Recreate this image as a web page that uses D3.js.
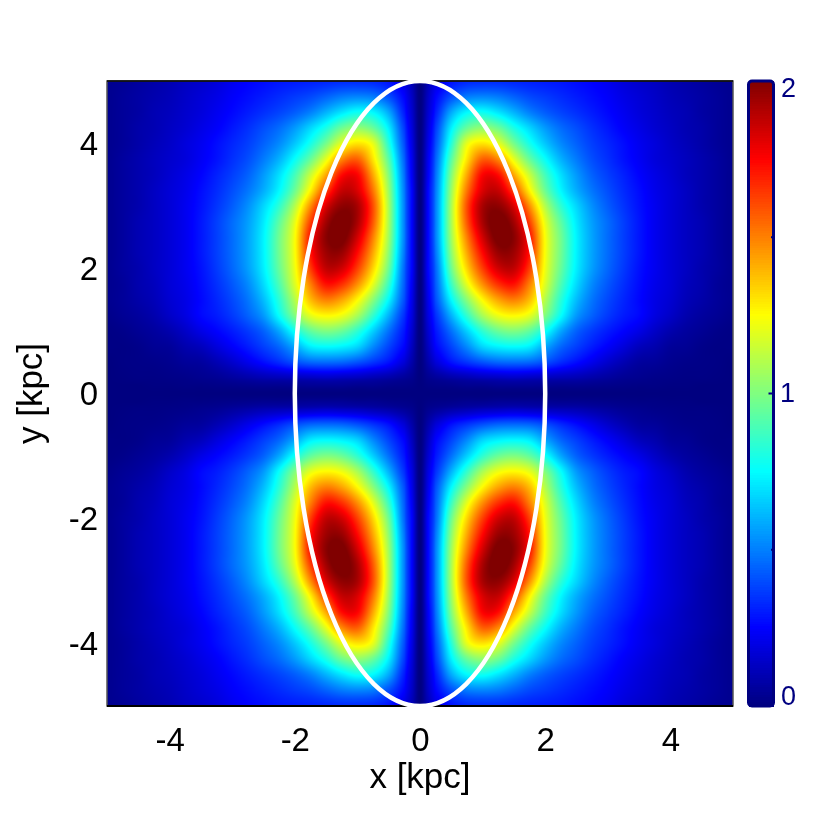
<!DOCTYPE html>
<html><head><meta charset="utf-8">
<script src="https://cdn.jsdelivr.net/npm/d3@7"></script>
<style>
html,body{margin:0;padding:0;background:#fff;width:830px;height:830px;overflow:hidden}
canvas,svg{position:absolute;left:0;top:0}
text{font-family:"Liberation Sans",Arial,sans-serif}
</style></head><body>
<canvas id="map" width="830" height="830"></canvas>
<svg id="chart" width="830" height="830"></svg>
<script>
const nodeX = [0,.125,.25,.5,.75,1,1.25,1.5,1.75,2,2.25,2.5,2.75,3,3.25,3.5,3.75,4,4.25,4.5,4.75,5];
const nodeY = [0,.125,.25,.5,.75,1,1.25,1.5,1.75,2,2.25,2.5,2.75,3,3.25,3.5,3.75,4,4.25,4.5,4.75,5];
// estimated colour value for the |x|,|y| quadrant; rows follow nodeY, columns follow nodeX
const quadrantValues = [
[0,0,0,0,0,0,0,0,0,0,0,0,0,0,0,0,0,0,0,0,0,0],
[0,.01,.015,.02,.03,.03,.04,.04,.04,.035,.03,.03,.025,.02,.015,.01,.01,.005,.005,0,0,0],
[0,.03,.05,.08,.10,.12,.13,.14,.13,.12,.11,.10,.08,.06,.04,.03,.02,.015,.01,.01,.005,0],
[0,.08,.17,.28,.35,.41,.45,.46,.45,.40,.33,.27,.21,.15,.10,.06,.05,.03,.02,.015,.01,0],
[0,.12,.25,.38,.52,.67,.73,.75,.72,.58,.45,.37,.30,.24,.18,.12,.09,.05,.04,.02,.01,.01],
[0,.15,.29,.47,.66,.84,.96,1.0,.94,.78,.58,.44,.36,.30,.25,.20,.14,.09,.06,.04,.02,.01],
[0,.18,.34,.60,.85,1.08,1.22,1.26,1.2,1.0,.76,.55,.44,.36,.30,.26,.19,.14,.09,.06,.04,.02],
[0,.20,.40,.74,1.02,1.26,1.43,1.5,1.38,1.1,.83,.62,.48,.39,.32,.26,.20,.16,.11,.08,.05,.03],
[0,.22,.43,.86,1.2,1.47,1.66,1.72,1.5,1.18,.90,.68,.52,.42,.34,.27,.21,.17,.12,.09,.05,.03],
[0,.24,.45,.96,1.33,1.63,1.84,1.87,1.63,1.22,.95,.72,.56,.45,.36,.28,.22,.17,.13,.09,.06,.03],
[0,.24,.48,1.02,1.42,1.74,1.95,1.94,1.71,1.24,.97,.73,.57,.46,.37,.29,.22,.17,.13,.10,.06,.03],
[0,.24,.50,1.06,1.5,1.84,2.03,1.98,1.72,1.24,.97,.73,.57,.46,.37,.29,.22,.17,.13,.10,.06,.03],
[0,.24,.50,1.08,1.58,1.92,2.04,1.93,1.62,1.2,.93,.71,.56,.46,.37,.29,.22,.17,.13,.10,.06,.03],
[0,.24,.50,1.08,1.6,1.92,1.97,1.82,1.47,1.1,.84,.67,.53,.43,.35,.28,.22,.17,.13,.09,.06,.03],
[0,.24,.49,1.05,1.52,1.82,1.86,1.62,1.27,.96,.74,.59,.48,.40,.33,.27,.21,.17,.13,.09,.06,.03],
[0,.22,.47,1.0,1.42,1.75,1.73,1.42,1.14,.88,.69,.55,.44,.37,.31,.25,.20,.16,.12,.09,.06,.03],
[0,.21,.44,.92,1.3,1.56,1.48,1.2,.95,.76,.60,.49,.40,.34,.28,.23,.18,.15,.12,.09,.06,.03],
[0,.19,.40,.82,1.2,1.3,1.2,.98,.79,.64,.52,.44,.37,.32,.27,.22,.18,.14,.11,.08,.05,.03],
[0,.17,.36,.72,.95,1.03,.96,.80,.67,.55,.46,.40,.34,.29,.24,.20,.16,.13,.10,.08,.05,.03],
[0,.15,.30,.58,.74,.77,.70,.60,.50,.43,.38,.34,.30,.26,.22,.18,.15,.12,.10,.07,.05,.03],
[0,.13,.25,.40,.49,.51,.49,.44,.39,.36,.33,.30,.27,.24,.20,.17,.14,.11,.09,.07,.05,.03],
[0,.10,.19,.28,.32,.33,.33,.32,.31,.30,.29,.27,.25,.22,.18,.15,.13,.10,.08,.06,.04,.03]
];
const axisTicks = [-4,-2,0,2,4];
const barLabels = [0,1,2];
const barMinorTicks = [.5,1,1.5];
const jetStops = [0,.25,.75,1.25,1.75,2];
const jetColors = ["#000080","#0000ff","#00ffff","#ffff00","#ff0000","#800000"];
const xLabel = "x [kpc]", yLabel = "y [kpc]";
const ellipseAxes = {rx:2, ry:5};

const x = d3.scaleLinear().domain([-5,5]).range([107,733]);
const y = d3.scaleLinear().domain([-5,5]).range([706,81]);
const color = d3.scaleLinear().domain(jetStops).range(jetColors).clamp(true);
const barY = d3.scaleLinear().domain([0,2]).range([706,81]);
const idxX = d3.scaleLinear().domain(nodeX).range(nodeX.map((d,i)=>i));
const idxY = d3.scaleLinear().domain(nodeY).range(nodeY.map((d,i)=>i));

function cr(a,b,c,d,t){return b+0.5*t*(c-a+t*(2*a-5*b+4*c-d+t*(3*(b-c)+d-a)));}
function at(i,j){ // negative indices read the mirrored side of the axis
  const ai=Math.min(Math.abs(i),nodeX.length-1), aj=Math.min(Math.abs(j),nodeY.length-1);
  return quadrantValues[aj][ai];
}
function sample(dx,dy){
  const fx=idxX(Math.abs(dx)), fy=idxY(Math.abs(dy));
  const i=Math.min(Math.floor(fx),nodeX.length-2), j=Math.min(Math.floor(fy),nodeY.length-2);
  const tx=fx-i, ty=fy-j, col=[];
  for(let n=-1;n<=2;n++) col.push(cr(at(i-1,j+n),at(i,j+n),at(i+1,j+n),at(i+2,j+n),tx));
  return cr(col[0],col[1],col[2],col[3],ty);
}
const ctx=document.getElementById("map").getContext("2d");
const x0=x.range()[0],x1=x.range()[1],y1=y.range()[0],y0=y.range()[1];
const img=ctx.createImageData(x1-x0,y1-y0);
for(let py=0;py<y1-y0;py++)for(let px=0;px<x1-x0;px++){
  const c=d3.rgb(color(sample(x.invert(x0+px+.5),y.invert(y0+py+.5))));
  const k=(py*(x1-x0)+px)*4;
  img.data[k]=c.r;img.data[k+1]=c.g;img.data[k+2]=c.b;img.data[k+3]=255;
}
ctx.putImageData(img,x0,y0);

const svg=d3.select("#chart");
svg.append("rect").attr("x",x0).attr("y",y0).attr("width",x1-x0).attr("height",y1-y0)
  .attr("fill","none").attr("stroke","#555").attr("stroke-width",1.5);
svg.append("line").attr("x1",x0).attr("x2",x1).attr("y1",y1).attr("y2",y1).attr("stroke","#000").attr("stroke-width",2);
svg.append("line").attr("x1",x0).attr("x2",x1).attr("y1",y0).attr("y2",y0).attr("stroke","#000").attr("stroke-width",1.5);

svg.append("ellipse").attr("cx",x(0)).attr("cy",y(0))
  .attr("rx",x(ellipseAxes.rx)-x(0)).attr("ry",y(0)-y(ellipseAxes.ry))
  .attr("fill","none").attr("stroke","#fff").attr("stroke-width",4.5);

const gx=svg.append("g").attr("transform",`translate(0,${y1})`)
  .call(d3.axisBottom(x).tickValues(axisTicks).tickSize(0).tickPadding(22).tickFormat(d=>String(d)));
const gy=svg.append("g").attr("transform",`translate(${x0},0)`)
  .call(d3.axisLeft(y).tickValues(axisTicks).tickSize(0).tickPadding(9).tickFormat(d=>String(d)));
[gx,gy].forEach(g=>{g.select(".domain").remove();
  g.selectAll("text").attr("font-size",33).attr("fill","#000").attr("font-family",'"Liberation Sans",Arial,sans-serif');});

svg.append("text").attr("x",x(0)).attr("y",788).attr("text-anchor","middle")
  .attr("font-size",35).attr("fill","#000").text(xLabel);
svg.append("text").attr("transform",`translate(42,${y(0)}) rotate(-90)`).attr("text-anchor","middle")
  .attr("font-size",35).attr("fill","#000").text(yLabel);

// colour bar
const bx=748.5,bw=25;
const levels=d3.range(0,2,2/256);
svg.append("g").attr("shape-rendering","crispEdges").selectAll("rect").data(levels).join("rect")
  .attr("x",bx).attr("width",bw)
  .attr("y",d=>barY(d+2/256)).attr("height",d=>barY(d)-barY(d+2/256)+1)
  .attr("fill",d=>color(d));
svg.append("rect").attr("x",bx).attr("y",barY(2)).attr("width",bw).attr("height",barY(0)-barY(2))
  .attr("rx",3.5).attr("fill","none").attr("stroke","#000080").attr("stroke-width",3);
svg.append("g").selectAll("line").data(barMinorTicks).join("line")
  .attr("x1",d=>bx+bw-(d===1?5:2.5)).attr("x2",bx+bw).attr("y1",d=>barY(d)).attr("y2",d=>barY(d))
  .attr("stroke","#000080").attr("stroke-width",2);
svg.append("g").selectAll("text").data(barLabels).join("text")
  .attr("x",d=>d===1?780:781).attr("y",d=>d===2?97:d===0?705:402)
  .attr("font-size",27).attr("fill","#000080").text(d=>d);
</script>
</body></html>
